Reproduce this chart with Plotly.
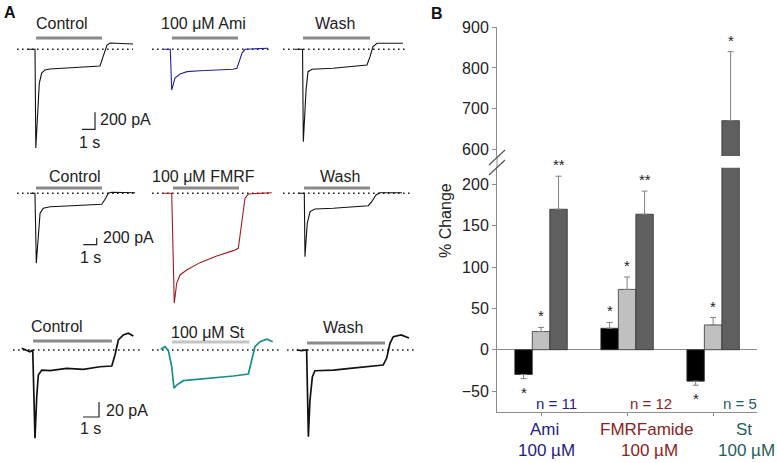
import plotly.graph_objects as go

W, H = 777, 463
FONT = "Liberation Sans, Arial, sans-serif"

# ---------------- Panel A data: time (s) from sweep start, current (pA) ----------------
ctrl1_t = [0, 0.54, 0.6, 0.72, 0.79, 0.87, 1.05, 1.31, 1.69, 3.0, 4.23, 5.54, 5.77, 6.08, 6.31, 8.08]
ctrl1_i = [0, 0, -1160, -770, -600, -400, -280, -243, -232, -220, -208, -196, -90, 50, 74, 62]
ami_t = [0, 0.56, 0.67, 0.92, 1.31, 1.85, 2.85, 4.15, 5.38, 5.69, 6.08, 6.31, 8.08]
ami_i = [0, 0, -479, -338, -290, -263, -252, -243, -235, -223, -44, 0, 12]
wash1_t = [0, 0.58, 0.64, 0.74, 0.85, 1.0, 1.31, 2.92, 4.23, 5.54, 5.77, 6.0, 6.31, 8.31]
wash1_i = [0, 0, -1087, -700, -479, -263, -235, -223, -205, -185, -87, 31, 71, 71]

ctrl2_t = [0, 0.37, 0.47, 0.62, 0.75, 0.99, 1.49, 2.74, 3.98, 5.35, 5.6, 5.84, 6.1, 7.84]
ctrl2_i = [0, 0, -2100, -1200, -600, -450, -402, -381, -351, -330, -180, 0, 30, 18]
fmrf_t = [0, 0.65, 0.84, 1.02, 1.27, 1.77, 2.76, 4.01, 5.25, 5.62, 5.87, 6.12, 6.37, 8.11]
fmrf_i = [0, 0, -3300, -2700, -2450, -2300, -2080, -1880, -1720, -1650, -900, -150, -20, 18]
wash2_t = [0, 0.47, 0.52, 0.69, 0.9, 1.27, 2.63, 3.88, 5.25, 5.5, 5.82, 6.12, 7.76]
wash2_i = [0, 0, -1900, -900, -550, -470, -450, -420, -372, -252, -51, 18, 18]

ctrl3_t = [0, 0.31, 0.52, 0.69, 0.83, 0.94, 1.04, 1.25, 1.77, 2.81, 3.85, 4.89, 5.63, 5.83, 6.04, 6.35, 6.66, 6.98]
ctrl3_i = [2.3, 0, -2.3, 0, -117.7, -62.3, -33.3, -26.7, -27.6, -24.4, -25.7, -22.3, -21.3, -6.7, 13.3, 20, 22.3, 18.7]
st_t = [0, 0.27, 0.48, 0.69, 0.83, 1.0, 1.41, 2.46, 3.5, 4.54, 5.48, 5.69, 5.89, 6.21, 6.63, 7.0]
st_i = [0.9, 4.4, -0.9, -22.3, -51, -46.7, -40.9, -39.1, -36.4, -34.7, -32, -13.3, 4.4, 11.1, 14.3, 11.1]
wash3_t = [0, 0.31, 0.62, 0.73, 0.83, 0.98, 1.14, 2.29, 3.33, 4.37, 5.41, 5.62, 5.83, 6.04, 6.52, 7.02]
wash3_i = [0, -0.9, 0, -115.6, -66.7, -35.6, -27.6, -26.7, -24.4, -22.3, -20, -11.1, 8.9, 17.7, 20, 16]

# application periods (s from sweep start)
app1_on = [0.62, 0.69, 0.62]; app1_off = [5.69, 5.77, 5.77]
app2_on = [0.45, 0.75, 0.45]; app2_off = [5.37, 5.67, 5.37]
app3_on = [0.71, 0.71, 0.64]; app3_off = [5.64, 5.54, 5.52]

panel_labels = [["Control", "100 μM Ami", "Wash"],
                ["Control", "100 μM FMRF", "Wash"],
                ["Control", "100 μM St", "Wash"]]
scale_pA = [200, 200, 20]
scale_s = [1, 1, 1]

# ---------------- Panel B data ----------------
groups = ["Ami", "FMRFamide", "St"]
group_n = ["n = 11", "n = 12", "n = 5"]
black_vals = [-30, 26, -38]; black_err = [5, 7, 5]
light_vals = [22, 73, 30]; light_err = [5, 15, 9]
dark_vals = [170, 164, 670]; dark_err = [40, 28, 170]
black_sig = ["*", "*", "*"]
light_sig = ["*", "*", "*"]
dark_sig = ["**", "**", "*"]
lower_ticks = [-50, 0, 50, 100, 150, 200]
upper_ticks = [600, 700, 800, 900]

# ---------------- layout helpers (pixel -> paper) ----------------
def fx(px):
    return px / W

def fy(py):
    return 1 - py / H

TRACES = [[(ctrl1_t, ctrl1_i), (ami_t, ami_i), (wash1_t, wash1_i)],
          [(ctrl2_t, ctrl2_i), (fmrf_t, fmrf_i), (wash2_t, wash2_i)],
          [(ctrl3_t, ctrl3_i), (st_t, st_i), (wash3_t, wash3_i)]]
APPS = [(app1_on, app1_off), (app2_on, app2_off), (app3_on, app3_off)]

ROWS = [
    dict(pxs=13.0, pApx=11.76, base=49.3, top=0, bottom=160, starts=[28, 163, 295],
         dots=[(17, 133), (152, 270), (283, 407)], bar_y=[38, 38, 38],
         label_y=[24, 24, 24], label_x=[62, 203, 335],
         colors=["#111111", "#22229a", "#111111"], width=1.1,
         bar_colors=["#8a8a8a", "#8a8a8a", "#8a8a8a"],
         sb=(95, 129.3), sb_txt=(98, 119), sb_s=(89, 143)),
    dict(pxs=13.4, pApx=30.0, base=193.3, top=160, bottom=312, starts=[30, 163, 298],
         dots=[(17, 135), (152, 272), (283, 410)], bar_y=[188, 188, 188],
         label_y=[177, 176, 176], label_x=[75, 203, 340],
         colors=["#111111", "#a01c1c", "#111111"], width=1.1,
         bar_colors=["#8a8a8a", "#8a8a8a", "#8a8a8a"],
         sb=(96.7, 244.7), sb_txt=(101, 237), sb_s=(90, 257)),
    dict(pxs=16.0, pApx=1.333, base=350, top=312, bottom=463, starts=[21.7, 160.7, 296.7],
         dots=[(13, 142), (152, 280), (287, 415)], bar_y=[341, 342, 343],
         label_y=[326, 332, 327], label_x=[57, 208, 343],
         colors=["#111111", "#1a8f8a", "#111111"], width=1.7,
         bar_colors=["#8a8a8a", "#c4c4c4", "#8a8a8a"],
         sb=(99, 417), sb_txt=(104, 410), sb_s=(90, 428)),
]

fig = go.Figure()
layout = dict(width=W, height=H, margin=dict(l=0, r=0, t=0, b=0),
              paper_bgcolor="white", plot_bgcolor="rgba(0,0,0,0)", template="none",
              showlegend=False, font=dict(family=FONT, color="#222222"))
annotations = []
shapes = []

k = 0
for r, row in enumerate(ROWS):
    pxs, pApx, base = row["pxs"], row["pApx"], row["base"]
    yr = [-(row["bottom"] - base) * pApx, (base - row["top"]) * pApx]
    for p in range(3):
        k += 1
        sx = "" if k == 1 else str(k)
        start = row["starts"][p]
        d0, d1 = max(0, start - 20), start + 128
        layout["xaxis" + sx] = dict(domain=[fx(d0), fx(d1)],
                                    range=[(d0 - start) / pxs, (d1 - start) / pxs],
                                    visible=False, anchor="y" + sx)
        layout["yaxis" + sx] = dict(domain=[fy(row["bottom"]), fy(row["top"])],
                                    range=yr, visible=False, anchor="x" + sx)
        xa, ya = "x" + sx, "y" + sx
        # dotted baseline
        a, b = row["dots"][p]
        fig.add_trace(go.Scatter(x=[(a - start) / pxs, (b - start) / pxs], y=[0, 0],
                                 mode="lines", xaxis=xa, yaxis=ya, hoverinfo="skip",
                                 line=dict(color="#222222", width=1.6, dash="1.6px,3.4px")))
        # application bar
        on, off = APPS[r][0][p], APPS[r][1][p]
        yb = (base - row["bar_y"][p]) * pApx
        fig.add_trace(go.Scatter(x=[on, off], y=[yb, yb], mode="lines", xaxis=xa, yaxis=ya,
                                 line=dict(color=row["bar_colors"][p], width=3)))
        # current trace
        t, i = TRACES[r][p]
        fig.add_trace(go.Scatter(x=t, y=i, mode="lines", xaxis=xa, yaxis=ya,
                                 line=dict(color=row["colors"][p], width=row["width"])))
        annotations.append(dict(text=panel_labels[r][p], x=fx(row["label_x"][p]),
                                y=fy(row["label_y"][p]), xref="paper", yref="paper",
                                showarrow=False, xanchor="center", yanchor="middle",
                                font=dict(size=16, family=FONT, color="#222222")))
        if p == 0:
            cx, cy = row["sb"]
            tc = (cx - start) / pxs
            ic = -(cy - base) * pApx
            fig.add_trace(go.Scatter(x=[tc - scale_s[r], tc, tc], y=[ic, ic, ic + scale_pA[r]],
                                     mode="lines", xaxis=xa, yaxis=ya,
                                     line=dict(color="#222222", width=1.2)))
            annotations.append(dict(text=f"{scale_pA[r]} pA", x=fx(row["sb_txt"][0]),
                                    y=fy(row["sb_txt"][1]), xref="paper", yref="paper",
                                    showarrow=False, xanchor="left", yanchor="middle",
                                    font=dict(size=16, family=FONT, color="#222222")))
            annotations.append(dict(text=f"{scale_s[r]} s", x=fx(row["sb_s"][0]),
                                    y=fy(row["sb_s"][1]), xref="paper", yref="paper",
                                    showarrow=False, xanchor="center", yanchor="middle",
                                    font=dict(size=16, family=FONT, color="#222222")))

# ---------------- Panel B ----------------
XL, XR = 497, 757
LOW_TOP, LOW_BOT = 167.7, 411.7
UP_TOP, UP_BOT = 27.3, 156
low_range = [-75, 220.3]
up_range = [583, 900]
xr = [-0.512, 2.51]
AXC = "#8c8c8c"

layout["xaxis10"] = dict(domain=[fx(XL), fx(XR)], range=xr, anchor="y10",
                         showline=True, linecolor=AXC, linewidth=1, ticks="outside",
                         ticklen=3, tickcolor=AXC, tickvals=[0, 1, 2], showticklabels=False,
                         showgrid=False, zeroline=False)
layout["yaxis10"] = dict(domain=[fy(LOW_BOT), fy(LOW_TOP)], range=low_range, anchor="x10",
                         showline=True, linecolor=AXC, linewidth=1, ticks="outside",
                         ticklen=4, tickcolor=AXC, tickvals=lower_ticks, showgrid=False,
                         zeroline=True, zerolinecolor=AXC, zerolinewidth=1,
                         tickfont=dict(size=16, family=FONT, color="#222222"))
layout["xaxis11"] = dict(domain=[fx(XL), fx(XR)], range=xr, anchor="y11", visible=False)
layout["yaxis11"] = dict(domain=[fy(UP_BOT), fy(UP_TOP)], range=up_range, anchor="x11",
                         showline=True, linecolor=AXC, linewidth=1, ticks="outside",
                         ticklen=4, tickcolor=AXC, tickvals=upper_ticks, showgrid=False,
                         zeroline=False, tickfont=dict(size=16, family=FONT, color="#222222"))

series = [(black_vals, black_err, "#000000"), (light_vals, light_err, "#c0c0c0"),
          (dark_vals, dark_err, "#5f5f5f")]
for xa, ya in (("x10", "y10"), ("x11", "y11")):
    for vals, errs, col in series:
        fig.add_trace(go.Bar(
            x=[0, 1, 2], y=vals, xaxis=xa, yaxis=ya, marker=dict(color=col, line=dict(color="#333333", width=0.8)),
            error_y=dict(type="data", symmetric=False,
                         array=[e if v >= 0 else 0 for v, e in zip(vals, errs)],
                         arrayminus=[e if v < 0 else 0 for v, e in zip(vals, errs)],
                         color="#808080", thickness=1, width=3)))
layout["barmode"] = "group"
layout["bargap"] = 0.39
layout["bargroupgap"] = 0

bw = (1 - 0.39) / 3
offs = [-bw, 0, bw]
for s_i, (vals, errs, sigs) in enumerate([(black_vals, black_err, black_sig),
                                          (light_vals, light_err, light_sig),
                                          (dark_vals, dark_err, dark_sig)]):
    for g in range(3):
        v, e = vals[g], errs[g]
        upper = v > low_range[1]
        ref = ("x11", "y11") if upper else ("x10", "y10")
        if v >= 0:
            annotations.append(dict(text=sigs[g], x=g + offs[s_i], y=v + e, xref=ref[0], yref=ref[1],
                                    showarrow=False, xanchor="center", yanchor="bottom", yshift=1,
                                    font=dict(size=15, family=FONT, color="#222222")))
        else:
            annotations.append(dict(text=sigs[g], x=g + offs[s_i], y=v - e, xref=ref[0], yref=ref[1],
                                    showarrow=False, xanchor="center", yanchor="top", yshift=-3,
                                    font=dict(size=15, family=FONT, color="#222222")))

grp_colors = ["#1f2380", "#8b2323", "#1f5f5a"]
n_x = [556, 651, 740]
cat_x = [544, 647, 744]
for g in range(3):
    annotations.append(dict(text=group_n[g], x=fx(n_x[g]), y=fy(403), xref="paper", yref="paper",
                            showarrow=False, xanchor="center", yanchor="middle",
                            font=dict(size=15, family=FONT, color=grp_colors[g])))
    annotations.append(dict(text=groups[g], x=fx(cat_x[g]), y=fy(429), xref="paper", yref="paper",
                            showarrow=False, xanchor="center", yanchor="middle",
                            font=dict(size=17, family=FONT, color=grp_colors[g])))
    annotations.append(dict(text="100 µM", x=fx(cat_x[g] + 2), y=fy(450), xref="paper", yref="paper",
                            showarrow=False, xanchor="center", yanchor="middle",
                            font=dict(size=17, family=FONT, color=grp_colors[g])))

annotations.append(dict(text="% Change", x=fx(445), y=fy(221), xref="paper", yref="paper",
                        showarrow=False, textangle=-90, xanchor="center", yanchor="middle",
                        font=dict(size=16, family=FONT, color="#222222")))
annotations.append(dict(text="<b>A</b>", x=fx(10), y=fy(12), xref="paper", yref="paper",
                        showarrow=False, xanchor="center", yanchor="middle",
                        font=dict(size=16, family=FONT, color="#111111")))
annotations.append(dict(text="<b>B</b>", x=fx(437), y=fy(13), xref="paper", yref="paper",
                        showarrow=False, xanchor="center", yanchor="middle",
                        font=dict(size=16, family=FONT, color="#111111")))

# axis break: connecting line and slashes
shapes.append(dict(type="line", xref="paper", yref="paper", x0=fx(XL), x1=fx(XL),
                   y0=fy(UP_BOT), y1=fy(LOW_TOP), line=dict(color=AXC, width=1)))
for (x0, y0, x1, y1) in [(489, 165, 505, 150), (489, 175, 505, 160)]:
    shapes.append(dict(type="line", xref="paper", yref="paper", x0=fx(x0), y0=fy(y0),
                       x1=fx(x1), y1=fy(y1), line=dict(color="#555555", width=1.2)))

layout["annotations"] = annotations
layout["shapes"] = shapes
fig.update_layout(**layout)
fig.write_html("out.html", config={"displayModeBar": False},
               post_script="document.body.style.margin='0px';document.body.style.overflow='hidden';")
